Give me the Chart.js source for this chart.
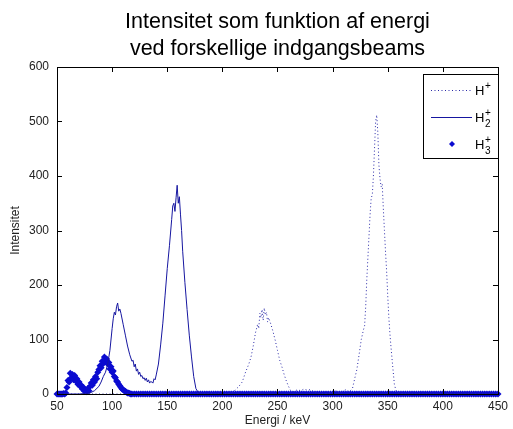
<!DOCTYPE html>
<html>
<head>
<meta charset="utf-8">
<script src="https://cdn.jsdelivr.net/npm/chart.js@4.4.1/dist/chart.umd.min.js"></script>
<style>
  html, body { margin: 0; padding: 0; background: #fff; }
  #wrap { width: 513px; height: 429px; position: relative; }
</style>
</head>
<body>
<div id="wrap"><canvas id="chart"></canvas></div>
<script>
// --- data (energy in keV, intensity in counts) ---

const titleLines = ['Intensitet som funktion af energi', 'ved forskellige indgangsbeams'];
const xTitle = 'Energi / keV';
const yTitle = 'Intensitet';

// legend: base text, superscript, subscript
const legendBase = ['H', 'H', 'H'];
const legendSup = ['+', '+', '+'];
const legendSub = ['', '2', '3'];

// H+ beam (dotted)
const energyH1 = [50, 150, 200, 208, 212, 215, 218, 221, 224, 226, 228, 230, 232, 233, 234, 235, 236, 237, 238, 239,
  240, 241, 242, 244, 246, 248, 250, 252, 254, 256, 258, 260, 262, 265, 268, 271, 274, 277, 280, 283,
  286, 290, 295, 300, 303, 306, 309, 312, 315, 318, 320, 322, 324, 326, 328, 329, 330, 331, 332, 333,
  334, 335, 336, 337, 338, 339, 340, 341, 342, 343, 344, 345, 346, 347, 348, 349, 350, 351, 352, 353,
  354, 355, 356, 357, 358, 360, 365, 380, 450];
const intensH1 = [0, 0, 0, 1, 8, 14, 22, 40, 55, 68, 88, 112, 128, 120, 148, 140, 155, 135, 158, 145,
  150, 132, 140, 128, 114, 98, 80, 62, 50, 36, 24, 14, 6, 4, 8, 6, 9, 7, 8, 4,
  2, 0, 1, 3, 6, 2, 5, 8, 4, 10, 28, 45, 72, 100, 118, 125, 160, 210, 250, 290,
  330, 360, 365, 400, 450, 500, 512, 480, 420, 395, 380, 385, 340, 300, 260, 225, 180, 140, 110, 85,
  62, 40, 18, 10, 4, 2, 0, 0, 0];

// H2+ beam (solid line)
const energyH2 = [50, 60, 70, 76, 80, 84, 88, 90, 92, 94, 96, 98, 100, 101, 102, 103, 104, 105, 106, 107,
  108, 110, 112, 114, 116, 118, 119, 120, 121, 122, 123, 124, 125, 126, 127, 128, 129, 130, 131, 132,
  133, 134, 135, 136, 137, 138, 139, 140, 142, 144, 146, 148, 150, 152, 154, 155, 156, 157, 158, 159,
  160, 161, 162, 163, 164, 166, 168, 170, 172, 174, 176, 178, 180, 200, 300, 450];
const intensH2 = [0, 0, 0, 1, 2, 6, 14, 22, 32, 40, 55, 80, 120, 138, 150, 145, 160, 167, 152, 156,
  148, 128, 108, 88, 72, 60, 62, 50, 55, 42, 46, 36, 40, 32, 34, 28, 30, 25, 29, 22,
  26, 20, 23, 22, 20, 28, 26, 35, 55, 90, 130, 180, 230, 272, 320, 345, 350, 335, 360, 383,
  350, 362, 330, 300, 262, 205, 155, 108, 68, 32, 10, 3, 0, 0, 0, 0];

// H3+ beam (markers)
const energyH3 = [50, 51, 52, 53, 54, 55, 56, 57, 58, 59, 60, 61, 62, 63, 64, 65, 66, 67, 68, 69,
  70, 71, 72, 73, 74, 75, 76, 77, 78, 79, 80, 81, 82, 83, 84, 85, 86, 87, 88, 89,
  90, 91, 92, 93, 94, 95, 96, 97, 98, 99, 100, 101, 102, 103, 104, 105, 106, 107, 108, 109,
  110, 111, 112, 113, 114, 115, 116, 117, 118,
  120, 122, 124, 126, 128, 130, 132, 134, 136, 138, 140, 142, 144, 146, 148, 150, 152, 154, 156, 158,
  160, 162, 164, 166, 168, 170, 172, 174, 176, 178, 180, 182, 184, 186, 188, 190, 192, 194, 196, 198,
  200, 202, 204, 206, 208, 210, 212, 214, 216, 218, 220, 222, 224, 226, 228, 230, 232, 234, 236, 238,
  240, 242, 244, 246, 248, 250, 252, 254, 256, 258, 260, 262, 264, 266, 268, 270, 272, 274, 276, 278,
  280, 282, 284, 286, 288, 290, 292, 294, 296, 298, 300, 302, 304, 306, 308, 310, 312, 314, 316, 318,
  320, 322, 324, 326, 328, 330, 332, 334, 336, 338, 340, 342, 344, 346, 348, 350, 352, 354, 356, 358,
  360, 362, 364, 366, 368, 370, 372, 374, 376, 378, 380, 382, 384, 386, 388, 390, 392, 394, 396, 398,
  400, 402, 404, 406, 408, 410, 412, 414, 416, 418, 420, 422, 424, 426, 428, 430, 432, 434, 436, 438,
  440, 442, 444, 446, 448, 450];
const intensH3 = [0, 0, 0, 0, 0, 0, 1, 0, 2, 12, 25, 22, 38, 30, 36, 26, 34, 24, 28, 18,
  22, 14, 16, 9, 12, 5, 8, 4, 10, 6, 14, 20, 16, 26, 22, 32, 28, 40, 45, 52,
  48, 60, 56, 68, 60, 64, 55, 58, 46, 50, 40, 42, 32, 30, 24, 22, 18, 15, 12, 9,
  8, 6, 5, 3, 2, 2, 1, 0, 0,
  0, 0, 0, 0, 0, 0, 0, 0, 0, 0, 0, 0, 0, 0, 0, 0, 0, 0, 0, 0,
  0, 0, 0, 0, 0, 0, 0, 0, 0, 0, 0, 0, 0, 0, 0, 0, 0, 0, 0, 0,
  0, 0, 0, 0, 0, 0, 0, 0, 0, 0, 0, 0, 0, 0, 0, 0, 0, 0, 0, 0,
  0, 0, 0, 0, 0, 0, 0, 0, 0, 0, 0, 0, 0, 0, 0, 0, 0, 0, 0, 0,
  0, 0, 0, 0, 0, 0, 0, 0, 0, 0, 0, 0, 0, 0, 0, 0, 0, 0, 0, 0,
  0, 0, 0, 0, 0, 0, 0, 0, 0, 0, 0, 0, 0, 0, 0, 0, 0, 0, 0, 0,
  0, 0, 0, 0, 0, 0, 0, 0, 0, 0, 0, 0, 0, 0, 0, 0, 0, 0, 0, 0,
  0, 0, 0, 0, 0, 0, 0, 0, 0, 0, 0, 0, 0, 0, 0, 0, 0, 0, 0, 0,
  0, 0, 0, 0, 0, 0];

const FONT = '"Liberation Sans", Arial, Helvetica, sans-serif';
const C_H1 = '#2a2aa8';
const C_H2 = '#1616a0';
const C_H3 = '#0b0bd0';

const toPoints = (xs, ys) => xs.map((x, i) => ({ x, y: ys[i] }));

// MATLAB-like box with inward ticks on all four sides
const boxPlugin = {
  id: 'matlabBox',
  afterDatasetsDraw(chart) {
    const { ctx, chartArea: a, scales: { x, y } } = chart;
    const len = 5;
    ctx.save();
    ctx.strokeStyle = '#000';
    ctx.lineWidth = 1;
    ctx.beginPath();
    for (const t of x.ticks) {
      const px = Math.round(x.getPixelForValue(t.value)) + 0.5;
      ctx.moveTo(px, a.bottom); ctx.lineTo(px, a.bottom - len);
      ctx.moveTo(px, a.top); ctx.lineTo(px, a.top + len);
    }
    for (const t of y.ticks) {
      const py = Math.round(y.getPixelForValue(t.value)) + 0.5;
      ctx.moveTo(a.left, py); ctx.lineTo(a.left + len, py);
      ctx.moveTo(a.right, py); ctx.lineTo(a.right - len, py);
    }
    ctx.stroke();
    ctx.strokeRect(Math.round(a.left) + 0.5, Math.round(a.top) + 0.5,
      Math.round(a.right - a.left), Math.round(a.bottom - a.top));
    ctx.restore();
  },
  afterDraw(chart) {
    const { ctx, chartArea: a } = chart;
    ctx.save();
    // title
    ctx.fillStyle = '#000';
    ctx.font = '21.5px ' + FONT;
    ctx.textAlign = 'center';
    ctx.textBaseline = 'alphabetic';
    const cx = (a.left + a.right) / 2;
    ctx.fillText(titleLines[0], cx, 28);
    ctx.fillText(titleLines[1], cx, 55);

    // legend box
    const bx = 423, by = 74, bw = 75, bh = 84;
    ctx.fillStyle = '#fff';
    ctx.fillRect(bx, by, bw, bh);
    ctx.strokeStyle = '#000';
    ctx.lineWidth = 1;
    ctx.strokeRect(bx + 0.5, by + 0.5, bw, bh);

    const rows = [90, 117, 144];
    chart.data.datasets.forEach((ds, i) => {
      const ry = rows[i];
      ctx.save();
      if (ds.showLine === false) {
        ctx.fillStyle = ds.pointBackgroundColor;
        ctx.beginPath();
        ctx.moveTo(452, ry - 3); ctx.lineTo(455, ry); ctx.lineTo(452, ry + 3); ctx.lineTo(449, ry);
        ctx.closePath(); ctx.fill();
      } else {
        ctx.strokeStyle = ds.borderColor;
        ctx.lineWidth = 1;
        ctx.setLineDash(ds.borderDash || []);
        ctx.beginPath();
        ctx.moveTo(431, ry + 0.5); ctx.lineTo(472, ry + 0.5);
        ctx.stroke();
      }
      ctx.restore();
      ctx.fillStyle = '#000';
      ctx.textAlign = 'left';
      ctx.textBaseline = 'alphabetic';
      ctx.font = '13px ' + FONT;
      ctx.fillText(legendBase[i], 475, ry + 5);
      ctx.font = '10px ' + FONT;
      ctx.fillText(legendSup[i], 485, ry - 1);
      if (legendSub[i]) ctx.fillText(legendSub[i], 485, ry + 10);
    });
    ctx.restore();
  },
};

const ctx = document.getElementById('chart').getContext('2d');
new Chart(ctx, {
  type: 'line',
  data: {
    datasets: [
      {
        label: 'H+',
        data: toPoints(energyH1, intensH1),
        borderColor: C_H1,
        borderWidth: 1,
        borderDash: [1, 2.5],
        pointRadius: 0,
        fill: false,
        tension: 0,
      },
      {
        label: 'H2+',
        data: toPoints(energyH2, intensH2),
        borderColor: C_H2,
        borderWidth: 1,
        pointRadius: 0,
        fill: false,
        tension: 0,
      },
      {
        label: 'H3+',
        data: toPoints(energyH3, intensH3),
        showLine: false,
        clip: false,
        pointStyle: 'rectRot',
        pointRadius: 3.5,
        pointBorderWidth: 0,
        pointBackgroundColor: C_H3,
        pointBorderColor: C_H3,
      },
    ],
  },
  plugins: [boxPlugin],
  options: {
    responsive: true,
    maintainAspectRatio: false,
    animation: false,
    events: [],
    layout: { padding: { top: 67, right: 11, left: 0, bottom: 0 } },
    scales: {
      x: {
        type: 'linear',
        min: 50,
        max: 450,
        afterFit(s) { s.height = 35; },
        ticks: { stepSize: 50, color: '#222', font: { family: FONT, size: 12 }, padding: 5, maxRotation: 0 },
        grid: { display: false, drawTicks: false },
        border: { display: false },
        title: { display: true, text: xTitle, color: '#222', font: { family: FONT, size: 12 }, padding: { top: 0, bottom: 1 } },
      },
      y: {
        min: 0,
        max: 600,
        afterFit(s) { s.width = 57; },
        ticks: { stepSize: 100, color: '#222', font: { family: FONT, size: 12 }, padding: 8 },
        grid: { display: false, drawTicks: false },
        border: { display: false },
        title: { display: true, text: yTitle, color: '#222', font: { family: FONT, size: 12 }, padding: { top: 8, bottom: 0 } },
      },
    },
    plugins: {
      legend: { display: false },
      title: { display: false },
      tooltip: { enabled: false },
    },
  },
});
</script>
</body>
</html>
